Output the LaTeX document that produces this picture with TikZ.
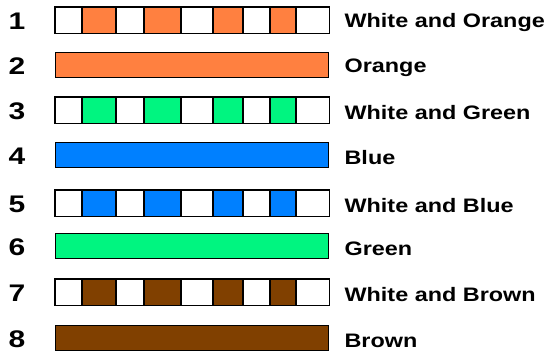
\documentclass[tikz,border=0pt]{standalone}
\usepackage{fontspec}
\setmainfont{Liberation Sans}
\usepackage{graphicx}
\usetikzlibrary{positioning}
\usepackage{xcolor}

\definecolor{pairOrange}{RGB}{255,128,64}
\definecolor{pairGreen}{RGB}{0,245,128}
\definecolor{pairBlue}{RGB}{0,128,255}
\definecolor{pairBrown}{RGB}{128,64,0}

\newcommand{\widetext}[2]{\scalebox{#1}[1]{#2}}

\begin{document}
\begin{tikzpicture}[
    x=1pt, y=-1pt,
    node distance=1.0cm and 15pt,
    wire/.style={line width=1.4pt, minimum width=273pt, minimum height=25pt, inner sep=0pt, anchor=west},
    pin/.style={font=\fontsize{24}{24}\selectfont\bfseries, inner sep=0pt},
    lbl/.style={font=\fontsize{19.5}{20}\selectfont\bfseries, inner sep=0pt, yshift=-2.5pt}
]
\useasboundingbox (0,0) rectangle (546,354);

% solid pairs
\foreach \i/\yy/\col/\txt in {2/65/pairOrange/Orange, 4/155/pairBlue/Blue,
                               6/246/pairGreen/Green, 8/338/pairBrown/Brown}{
  \node[wire, draw, fill=\col] (w\i) at (55,\yy) {};
  \node[pin] (n\i) at (17,\yy+1.5) {\widetext{1.25}{\i}};
  \node[lbl, right=of w\i] (l\i) {\widetext{1.2}{\txt}};
}

% striped pairs
\foreach \i/\yy/\col/\txt in {1/20/pairOrange/White and Orange, 3/110/pairGreen/White and Green,
                               5/203/pairBlue/White and Blue, 7/292/pairBrown/White and Brown}{
  \node[wire, fill=white] (w\i) at (55,\yy) {};
  \foreach \a/\b in {82/116, 144/181, 213/243, 270/296}{
    \fill[\col] (\a,\yy-12.5) rectangle (\b,\yy+12.5);
    \draw[line width=1.1pt] (\a,\yy-12.5) -- (\a,\yy+12.5) (\b,\yy-12.5) -- (\b,\yy+12.5);
  }
  \draw[line width=1.4pt] (w\i.north west) rectangle (w\i.south east);
  \node[pin] (n\i) at (17,\yy+1.5) {\widetext{1.25}{\i}};
  \node[lbl, right=of w\i] (l\i) {\widetext{1.2}{\txt}};
}
\end{tikzpicture}
\end{document}
